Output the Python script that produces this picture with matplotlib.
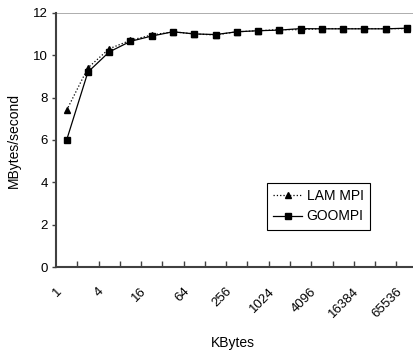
import numpy as np
import matplotlib
matplotlib.use("Agg")
import matplotlib.pyplot as plt
import matplotlib.transforms as mtransforms

plt.rcParams['font.family'] = ['Liberation Sans', 'DejaVu Sans']

# message sizes in KBytes (2^0 .. 2^16)
sizes = [str(2 ** i) for i in range(17)]
lam_mpi = [7.4, 9.4, 10.3, 10.7, 10.95, 11.1, 11.0, 10.95, 11.1, 11.15,
           11.2, 11.2, 11.25, 11.25, 11.25, 11.25, 11.25]
goompi = [6.0, 9.2, 10.15, 10.65, 10.9, 11.1, 11.0, 10.97, 11.1, 11.15,
          11.18, 11.25, 11.24, 11.24, 11.24, 11.24, 11.27]

fig = plt.figure(figsize=(4.14, 3.54), dpi=100)
ax = fig.add_axes([56 / 414, 1 - 267.3 / 354, 361.6 / 414, 254.6 / 354])

x = np.arange(len(sizes))
ax.plot(x, lam_mpi, linestyle=':', color='black', linewidth=0.9,
        marker='^', markersize=5, label='LAM MPI')
ax.plot(x, goompi, linestyle='-', color='black', linewidth=0.9,
        marker='s', markersize=4.5, label='GOOMPI')

ax.set_xlim(-0.5, len(sizes) - 0.5)
ax.set_ylim(0, 12)
ax.set_yticks(range(0, 13, 2))
ax.axhline(12, color='#a0a0a0', linewidth=1.2, zorder=0)

# labels on every other category, tick marks between categories
ax.set_xticks(x[::2])
ax.set_xticklabels(sizes[::2], rotation=45, ha='right', va='center',
                   rotation_mode='anchor')
ax.set_xticks(np.arange(0.5, len(sizes) - 0.5, 1), minor=True)
ax.tick_params(axis='x', which='major', length=0, pad=16, labelsize=9.5)
ax.tick_params(axis='x', which='minor', direction='in', length=4,
               width=1, color='#404040')
ax.tick_params(axis='y', direction='out', length=3, width=1,
               color='#404040', labelsize=9.5, pad=3)
offset = mtransforms.ScaledTranslation(-7 / 100, 0, fig.dpi_scale_trans)
for lab in ax.get_xticklabels():
    lab.set_transform(lab.get_transform() + offset)

for side in ['top', 'right']:
    ax.spines[side].set_visible(False)
for side in ['left', 'bottom']:
    ax.spines[side].set_color('#404040')
    ax.spines[side].set_linewidth(1.5)

ax.set_xlabel('KBytes', fontsize=10)
ax.xaxis.set_label_coords(0.49, -0.27)
ax.set_ylabel('MBytes/second', fontsize=10)
ax.yaxis.set_label_coords(-0.098, 0.5)

leg = ax.legend(loc='upper left', bbox_to_anchor=(267 / 414, 1 - 183 / 354),
                bbox_transform=fig.transFigure, borderaxespad=0,
                fancybox=False, framealpha=1, edgecolor='black',
                fontsize=10, handlelength=2.1, handletextpad=0.3,
                borderpad=0.45, labelspacing=0.45)
leg.get_frame().set_linewidth(0.8)

fig.savefig('out.png', dpi=100)
